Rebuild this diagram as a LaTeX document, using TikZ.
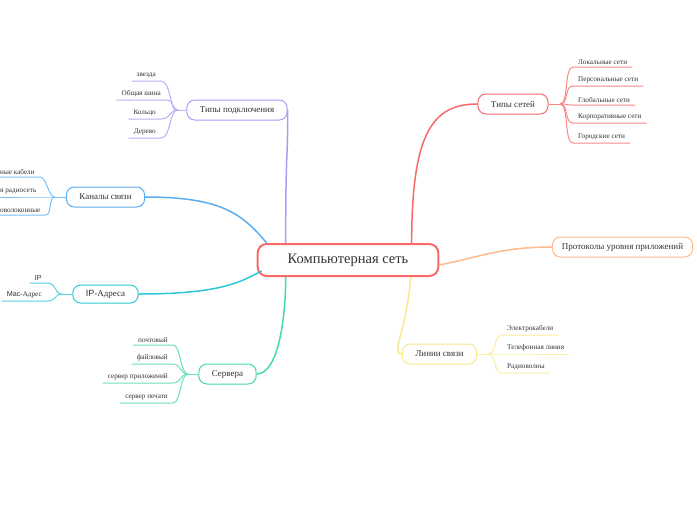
\documentclass[tikz,border=0pt]{standalone}
\usepackage{fontspec}
\setmainfont{Liberation Serif}
\setsansfont{Liberation Sans}
\usetikzlibrary{positioning,calc}
\definecolor{netred}{HTML}{F76A68}
\definecolor{linklilac}{HTML}{A99CF6}
\definecolor{chanblue}{HTML}{5CAEF0}
\definecolor{ipteal}{HTML}{2CC8D8}
\definecolor{srvgreen}{HTML}{44DBA8}
\definecolor{protorange}{HTML}{FDBB8C}
\definecolor{lineyellow}{HTML}{FAE98C}
\definecolor{textgray}{HTML}{333333}
\tikzset{
  rootnode/.style={draw=netred, line width=2pt, fill=white, rounded corners=9pt,
    minimum height=32pt, inner xsep=30pt, text=textgray,
    font=\fontsize{14.5}{16}\selectfont},
  topicnode/.style={draw=#1, line width=1pt, fill=white, rounded corners=8pt,
    minimum height=20pt, inner xsep=13pt, text=textgray,
    font=\fontsize{9}{11}\selectfont},
  leafnode/.style={inner xsep=5pt, inner ysep=2.5pt, text=textgray,
    font=\fontsize{7.2}{8}\selectfont},
  branch/.style={draw=#1, line width=1.5pt},
  twig/.style={draw=#1!80, line width=1pt},
}
\begin{document}
\begin{tikzpicture}[x=1pt, y=-1pt]
  \useasboundingbox[fill=white] (0,0) rectangle (697,520);

  % main topics
  \node[rootnode] (root) at (348,260) {Компьютерная сеть};
  \node[topicnode=linklilac] (links) at (237,110) {Типы подключения};
  \node[topicnode=chanblue] (chans) at (105.5,197) {Каналы связи};
  \node[topicnode=ipteal, minimum height=18pt] (ips) at (105.5,294) {\textsf{IP}-Адреса};
  \node[topicnode=srvgreen] (srvs) at (227.5,374) {Сервера};
  \node[topicnode=netred] (nets) at (513,104) {Типы сетей};
  \node[topicnode=protorange, inner xsep=9.5pt] (proto) at (622.5,247) {Протоколы уровня приложений};
  \node[topicnode=lineyellow] (lines) at (439.5,354) {Линии связи};

  \draw[branch=linklilac] ([xshift=29pt]root.north west) .. controls +(0,-100) and +(0,60) .. (links.east);
  \draw[branch=netred] ([xshift=155pt]root.north west) .. controls +(0,-110) and +(-45,0) .. (nets.west);
  \draw[branch=chanblue] (chans.east) .. controls +(75,0) and +(-25,-30) .. ([xshift=10pt]root.north west);
  \draw[branch=ipteal] (ips.east) .. controls +(85,0) and +(-20,10) .. ([xshift=5pt,yshift=-28pt]root.north west);
  \draw[branch=srvgreen] (srvs.east) .. controls +(22,0) and +(0,40) .. ([xshift=29pt]root.south west);
  \draw[branch=protorange] ([yshift=-5pt]root.east) .. controls +(40,-8) and +(-50,0) .. (proto.west);
  \draw[branch=lineyellow] ([xshift=154pt]root.south west) .. controls +(-4,55) and +(-12,0) .. (lines.west);

  % junctions
  \coordinate (jlinks) at (178,110);
  \coordinate (jchans) at (55,197);
  \coordinate (jips) at (62,294);
  \coordinate (jsrvs) at (188,374);
  \coordinate (jnets) at (560,104);
  \coordinate (jlines) at (488,354);
  \draw[twig=linklilac] (links.west) -- (jlinks);
  \draw[twig=chanblue] (chans.west) -- (jchans);
  \draw[twig=ipteal] (ips.west) -- (jips);
  \draw[twig=srvgreen] (srvs.west) -- (jsrvs);
  \draw[twig=netred] (nets.east) -- (jnets);
  \draw[twig=lineyellow] (lines.east) -- (jlines);

  % Типы подключения
  \node[leafnode, anchor=south east] (star) at (161,81) {звезда};
  \node[leafnode, anchor=south east] (bus) at (166,100) {Общая шина};
  \node[leafnode, anchor=south east] (ring) at (161,119) {Кольцо};
  \node[leafnode, anchor=south east] (tree) at (161,138) {Дерево};
  \foreach \leaf in {star,bus,ring,tree}
    \draw[twig=linklilac] (jlinks) .. controls +(-9,0) and +(10,0) .. (\leaf.south east) -- (\leaf.south west);

  % Каналы связи
  \node[leafnode, anchor=south west] (cable) at (-5,177) {ные кабели};
  \node[leafnode, anchor=south west] (radio) at (-5,197) {я радиосеть};
  \node[leafnode, anchor=south west] (fiber) at (-5,215) {оволоконные};
  \foreach \leaf in {cable,radio,fiber}
    \draw[twig=chanblue] (jchans) .. controls +(-7,0) and +(7,0) .. (\leaf.south east) -- (\leaf.south west);

  % IP-Адреса
  \node[leafnode, anchor=south east] (ipaddr) at (47,283) {\textsf{IP}};
  \node[leafnode, anchor=south east] (macaddr) at (47,301) {\textsf{Mac}-Адрес};
  \foreach \leaf in {ipaddr,macaddr}
    \draw[twig=ipteal] (jips) .. controls +(-8,0) and +(10,0) .. (\leaf.south east) -- (\leaf.south west);

  % Сервера
  \node[leafnode, anchor=south east] (mail) at (173,345) {почтовый};
  \node[leafnode, anchor=south east] (file) at (173,364) {файловый};
  \node[leafnode, anchor=south east] (app) at (173,383) {сервер приложений};
  \node[leafnode, anchor=south east] (print) at (173,403) {сервер печати};
  \foreach \leaf in {mail,file,app,print}
    \draw[twig=srvgreen] (jsrvs) .. controls +(-8,0) and +(8,0) .. (\leaf.south east) -- (\leaf.south west);

  % Типы сетей
  \node[leafnode, anchor=south west] (lan) at (573,67) {Локальные сети};
  \node[leafnode, anchor=south west] (pan) at (573,86) {Персональные сети};
  \node[leafnode, anchor=south west] (wan) at (573,105) {Глобальные сети};
  \node[leafnode, anchor=south west] (corp) at (573,123) {Корпоративные сети};
  \node[leafnode, anchor=south west] (man) at (573,143) {Городские сети};
  \foreach \leaf in {lan,pan,wan,corp,man}
    \draw[twig=netred] (jnets) .. controls +(9,0) and +(-9,0) .. (\leaf.south west) -- (\leaf.south east);

  % Линии связи
  \node[leafnode, anchor=south west] (elec) at (502,335) {Электрокабели};
  \node[leafnode, anchor=south west] (phone) at (502,354) {Телефонная линия};
  \node[leafnode, anchor=south west] (wave) at (502,373) {Радиоволны};
  \foreach \leaf in {elec,phone,wave}
    \draw[twig=lineyellow] (jlines) .. controls +(9,0) and +(-9,0) .. (\leaf.south west) -- (\leaf.south east);
\end{tikzpicture}
\end{document}
